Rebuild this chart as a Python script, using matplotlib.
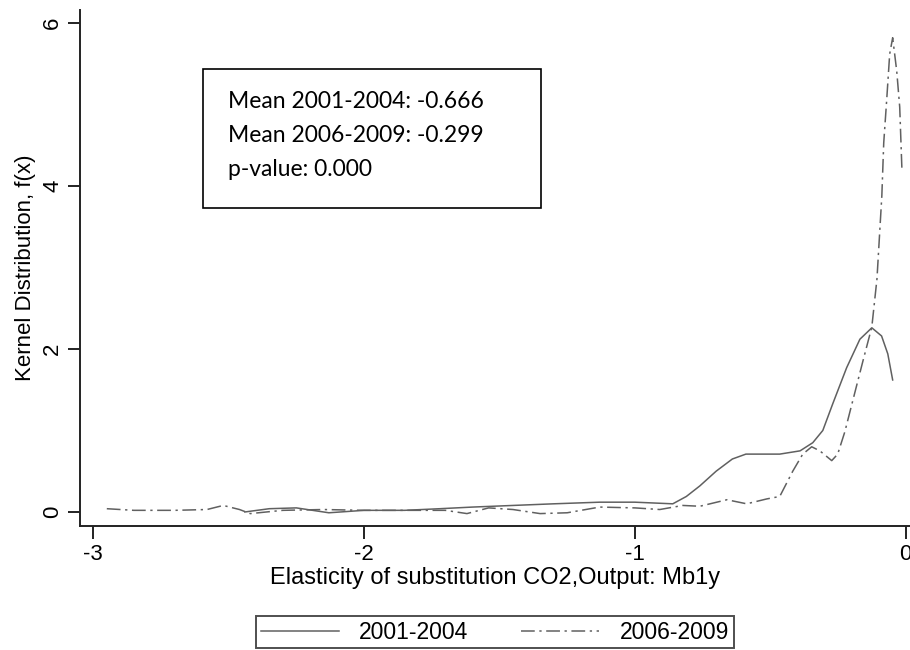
"""Kernel density of CO2/output elasticity, two periods."""

import matplotlib.pyplot as plt
from matplotlib.patches import Rectangle

plt.rcParams["font.family"] = ["Liberation Sans", "DejaVu Sans"]

# 2001-2004 (solid)
x_early = [-2.44, -2.35, -2.25, -2.13, -2.0, -1.85, -1.72, -1.6, -1.45, -1.3,
           -1.13, -1.0, -0.86, -0.81, -0.76, -0.70, -0.64, -0.59, -0.52, -0.465,
           -0.39, -0.343, -0.306, -0.269, -0.218, -0.169, -0.125, -0.089, -0.066, -0.048]
y_early = [0.0, 0.04, 0.05, -0.01, 0.02, 0.02, 0.04, 0.06, 0.08, 0.10,
           0.12, 0.12, 0.10, 0.19, 0.32, 0.50, 0.65, 0.71, 0.71, 0.71,
           0.75, 0.85, 1.00, 1.33, 1.77, 2.12, 2.26, 2.16, 1.94, 1.62]

# 2006-2009 (dash-dot)
x_late = [-2.95, -2.85, -2.7, -2.58, -2.52, -2.46, -2.42, -2.3, -2.15, -2.0,
          -1.85, -1.7, -1.62, -1.54, -1.45, -1.35, -1.25, -1.13, -1.0, -0.908,
          -0.823, -0.76, -0.66, -0.587, -0.513, -0.465, -0.417, -0.38, -0.347, -0.317,
          -0.273, -0.251, -0.225, -0.195, -0.158, -0.125, -0.106, -0.088, -0.081, -0.070,
          -0.059, -0.048, -0.033, -0.022, -0.014]
y_late = [0.04, 0.02, 0.02, 0.03, 0.08, 0.03, -0.02, 0.02, 0.03, 0.02,
          0.02, 0.02, -0.02, 0.05, 0.03, -0.02, -0.01, 0.06, 0.05, 0.03,
          0.08, 0.07, 0.15, 0.10, 0.16, 0.19, 0.50, 0.71, 0.80, 0.75,
          0.63, 0.71, 0.98, 1.37, 1.85, 2.27, 2.86, 3.88, 4.53, 5.06,
          5.62, 5.82, 5.41, 4.97, 4.22]

x_ticks = [-3, -2, -1, 0]
y_ticks = [0, 2, 4, 6]
stats_lines = ["Mean 2001-2004: -0.666", "Mean 2006-2009: -0.299", "p-value: 0.000"]

fig = plt.figure(figsize=(9.1, 6.5), dpi=100)
ax = fig.add_axes([0.0879, 0.1908, 0.9121, 0.7938])

ax.plot(x_early, y_early, color="#606060", linewidth=1.1, label="2001-2004")
ax.plot(x_late, y_late, color="#606060", linewidth=1.1,
        linestyle=(0, (9, 3, 1.5, 3)), label="2006-2009")

ax.set_xlim(-3.049, 0.016)
ax.set_ylim(-0.172, 6.16)
for s in ["top", "right"]:
    ax.spines[s].set_visible(False)
for s in ["left", "bottom"]:
    ax.spines[s].set_linewidth(1.4)
    ax.spines[s].set_color("#222222")

ax.set_xticks(x_ticks)
ax.set_yticks(y_ticks)
ax.set_xticklabels([str(v) for v in x_ticks], fontsize=16)
ax.set_yticklabels([str(v) for v in y_ticks], fontsize=16, rotation=90, va="center")
ax.tick_params(length=9, width=1.4, color="#222222")
ax.tick_params(axis="x", pad=4)
ax.tick_params(axis="y", pad=3)

ax.set_xlabel("Elasticity of substitution CO2,Output: Mb1y", fontsize=17)
ax.xaxis.set_label_coords(0.5, -0.10)
ax.xaxis.label.set_va("center")
ax.set_ylabel("Kernel Distribution, f(x)", fontsize=16)
ax.yaxis.set_label_coords(-0.066, 0.5)
ax.yaxis.label.set_va("center")

leg = ax.legend(loc="upper center", bbox_to_anchor=(0.5, -0.175), ncol=2,
                fontsize=16.5, frameon=True, fancybox=False, edgecolor="#222222",
                handlelength=3.4, handletextpad=0.9, columnspacing=2.3,
                borderpad=0.2, borderaxespad=0)
leg.get_frame().set_linewidth(1.4)

# stats box
fig.patches.append(Rectangle((203 / 910, 1 - 208 / 650), 338 / 910, 139 / 650,
                             transform=fig.transFigure, fill=False,
                             edgecolor="black", linewidth=1.2))
for i, line in enumerate(stats_lines):
    fig.text(228 / 910, 1 - (101 + 34 * i) / 650, line, fontsize=16.5,
             family=["Lato", "DejaVu Sans"], va="center", ha="left")

fig.savefig("out.png", dpi=100)
